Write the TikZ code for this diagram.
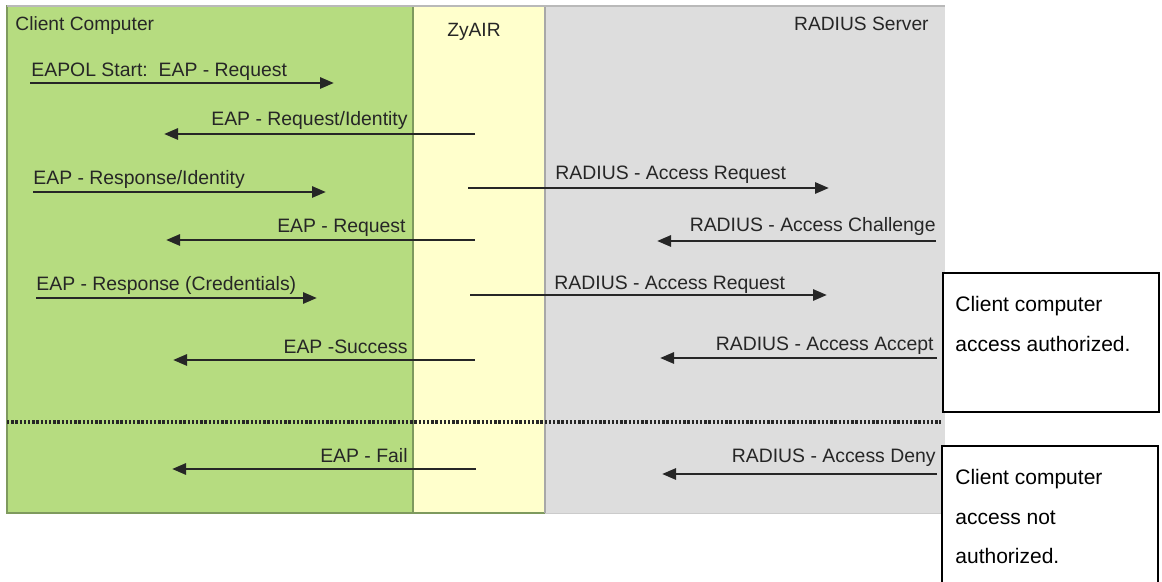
\documentclass[tikz,border=0pt]{standalone}
\usepackage{fontspec}
\setmainfont{Liberation Sans}
\usetikzlibrary{arrows.meta}
\definecolor{cgreen}{HTML}{B6DC80}
\definecolor{cgreenb}{HTML}{7E9A5E}
\definecolor{cyellow}{HTML}{FFFFCC}
\definecolor{cgray}{HTML}{DDDDDD}
\definecolor{cgrayb}{HTML}{A8A8A8}
\definecolor{ctext}{HTML}{262626}
\tikzset{
  msg/.style={draw=ctext, line width=1.4pt, -{Triangle[length=7pt,width=5.5pt]}},
  lbl/.style={inner sep=0pt, text=ctext, font=\fontsize{9.7}{11}\selectfont},
  ttl/.style={inner sep=0pt, text=ctext, font=\fontsize{9.6}{11}\selectfont},
  boxtxt/.style={inner sep=0pt, text=black, font=\fontsize{10.5}{12}\selectfont, anchor=base west},
}
\begin{document}
\begin{tikzpicture}[x=0.5pt,y=-0.5pt]
\useasboundingbox (0,0) rectangle (1162,582);
\fill[white] (0,0) rectangle (1162,582);
% lanes
\path[fill=cgreen, draw=cgreenb, line width=0.6pt] (7,6) rectangle (413,513);
\path[fill=cyellow, draw=cgreenb, line width=0.6pt] (413,6) rectangle (545,513);
\path[fill=cgray] (545,6) rectangle (945,513);
\draw[cgrayb, line width=0.6pt] (545,6) -- (545,513);
\draw[cgrayb!80, line width=1pt] (7,6) -- (945,6);
\draw[cgrayb!60, line width=0.5pt] (545,513) -- (945,513);
% titles
\node[ttl, anchor=base west] (tclient) at (15,31) {Client Computer};
\node[ttl, anchor=base] (tzy) at (474,37) {ZyAIR};
\node[ttl, anchor=base east] (trad) at (929,31) {RADIUS Server};
% row 1
\coordinate (a1s) at (30,83); \coordinate (a1e) at (334,83);
\draw[msg] (a1s) -- (a1e);
\node[lbl, anchor=base west] (l1) at (31,77) {EAPOL Start:\ \ EAP - Request};
% row 2
\coordinate (a2s) at (475,134); \coordinate (a2e) at (164,134);
\draw[msg] (a2s) -- (a2e);
\node[lbl, anchor=base east] (l2) at (408,126) {EAP - Request/Identity};
% row 3
\coordinate (a3s) at (33,192); \coordinate (a3e) at (326,192);
\draw[msg] (a3s) -- (a3e);
\node[lbl, anchor=base west] (l3) at (33,185) {EAP - Response/Identity};
\coordinate (b3s) at (468,188); \coordinate (b3e) at (829,188);
\draw[msg] (b3s) -- (b3e);
\node[lbl, anchor=base west] (m3) at (555,180) {RADIUS - Access Request};
% row 4
\coordinate (a4s) at (475,240); \coordinate (a4e) at (166,240);
\draw[msg] (a4s) -- (a4e);
\node[lbl, anchor=base east] (l4) at (406,233) {EAP - Request};
\coordinate (b4s) at (936,241); \coordinate (b4e) at (657,241);
\draw[msg] (b4s) -- (b4e);
\node[lbl, anchor=base east] (m4) at (936,232) {RADIUS - Access Challenge};
% row 5
\coordinate (a5s) at (36,298); \coordinate (a5e) at (317,298);
\draw[msg] (a5s) -- (a5e);
\node[lbl, anchor=base west] (l5) at (36,291) {EAP - Response (Credentials)};
\coordinate (b5s) at (470,295); \coordinate (b5e) at (827,295);
\draw[msg] (b5s) -- (b5e);
\node[lbl, anchor=base west] (m5) at (554,290) {RADIUS - Access Request};
% row 6
\coordinate (a6s) at (475,360); \coordinate (a6e) at (173,360);
\draw[msg] (a6s) -- (a6e);
\node[lbl, anchor=base east] (l6) at (408,354) {EAP -Success};
\coordinate (b6s) at (937,358); \coordinate (b6e) at (660,358);
\draw[msg] (b6s) -- (b6e);
\node[lbl, anchor=base east] (m6) at (934,351) {RADIUS - Access Accept};
% separator
\coordinate (d1) at (7,422); \coordinate (d2) at (941,422);
\draw[black!85, line width=1.7pt, dash pattern=on 1.2pt off 0.9pt] (d1) -- (d2);
% row 7
\coordinate (a7s) at (476,469); \coordinate (a7e) at (172,469);
\draw[msg] (a7s) -- (a7e);
\node[lbl, anchor=base east] (l7) at (408,463) {EAP - Fail};
\coordinate (b7s) at (937,474); \coordinate (b7e) at (662,474);
\draw[msg] (b7s) -- (b7e);
\node[lbl, anchor=base east] (m7) at (936,463) {RADIUS - Access Deny};
% outcome boxes
\node[draw=black, line width=0.8pt, fill=white, minimum width=108pt, minimum height=69.5pt, anchor=north west, inner sep=0pt] (ok) at (942,272) {};
\node[boxtxt] (ok1) at (955,312) {Client computer};
\node[boxtxt] (ok2) at (955,352) {access authorized.};
\coordinate (nb1) at (942,600); \coordinate (nb2) at (942,446);
\coordinate (nb3) at (1158,446); \coordinate (nb4) at (1158,600);
\fill[white] (nb1) rectangle (nb3);
\draw[black, line width=0.8pt] (nb1) -- (nb2) -- (nb3) -- (nb4);
\node[boxtxt] (no1) at (955,485) {Client computer};
\node[boxtxt] (no2) at (955,524) {access not};
\node[boxtxt] (no3) at (955,563) {authorized.};
\end{tikzpicture}
\end{document}
